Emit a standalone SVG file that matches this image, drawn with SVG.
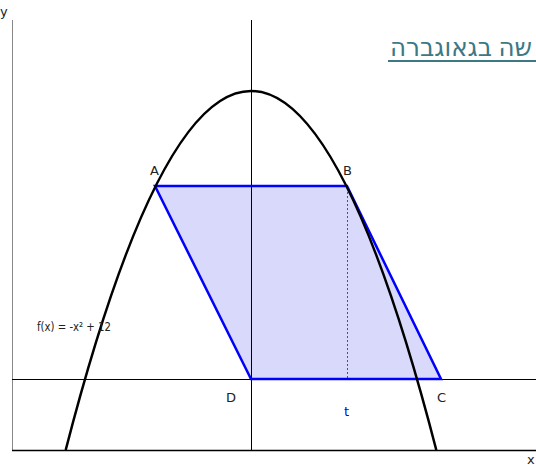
<svg xmlns="http://www.w3.org/2000/svg" width="536" height="466" viewBox="0 0 536 466">
<style>
.lbl{font-family:"DejaVu Sans","Liberation Sans",sans-serif;font-size:13px;fill:#222}
.ax{stroke:#000;stroke-width:1;fill:none}
</style>
<rect width="536" height="466" fill="#fff"/>
<g id="parallelogram">
<polygon points="155,186 347,186 441,379 251,379" fill="#d9d9fc" stroke="none"/>
</g>
<g id="frame">
<line x1="12.5" y1="20" x2="12.5" y2="450" stroke="#888" stroke-width="1"/>
<line x1="12" y1="450.5" x2="536" y2="450.5" stroke="#000" stroke-width="1.5"/>
<text class="lbl" x="0" y="16" font-size="12">y</text>
<text class="lbl" x="527" y="464" font-size="12">x</text>
</g>
<g id="axes">
<line class="ax" x1="251.5" y1="20" x2="251.5" y2="450"/>
<line class="ax" x1="12" y1="379.5" x2="536" y2="379.5"/>
</g>
<g id="connectors">
<line x1="347.5" y1="188" x2="347.5" y2="378" stroke="#555" stroke-width="1" stroke-dasharray="2,2"/>
<polygon points="155,186 347,186 441,379 251,379" fill="none" stroke="#0000ff" stroke-width="2.5"/>
</g>
<g id="parabola">
<path d="M65.7,450 Q251,-268 436.3,450" fill="none" stroke="#000" stroke-width="2.5"/>
</g>
<g id="labels">
<text class="lbl" x="150" y="175">A</text>
<text class="lbl" x="343" y="175">B</text>
<text class="lbl" x="226" y="402">D</text>
<text class="lbl" x="437" y="402">C</text>
<text class="lbl" x="344" y="416" style="fill:#0000ff">t</text>
<text class="lbl" x="37" y="331" textLength="74" lengthAdjust="spacingAndGlyphs">f(x) = -x² + 12</text>
</g>
<g id="title">
<text x="532" y="56" direction="rtl" text-anchor="start" font-family="'Noto Sans','DejaVu Sans',sans-serif" font-size="26" fill="#3d7885" textLength="142" lengthAdjust="spacingAndGlyphs">שה בגאוגברה</text>
<line x1="388" y1="61" x2="536" y2="61" stroke="#3d7885" stroke-width="2"/>
</g>
</svg>
